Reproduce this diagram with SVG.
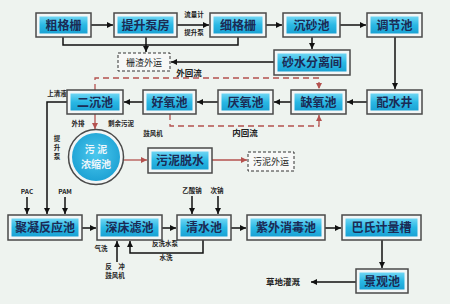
<svg xmlns="http://www.w3.org/2000/svg" width="450" height="304" viewBox="0 0 450 304">
<defs>
<linearGradient id="cy" x1="0" y1="0" x2="0" y2="1">
<stop offset="0" stop-color="#6fd6f4"/>
<stop offset="0.5" stop-color="#2ab8e4"/>
<stop offset="1" stop-color="#1aa2d4"/>
</linearGradient>
<radialGradient id="cc" cx="0.5" cy="0.45" r="0.6">
<stop offset="0" stop-color="#4cc8ee"/>
<stop offset="1" stop-color="#1a9fd2"/>
</radialGradient>
<marker id="ab" viewBox="0 0 10 10" refX="10" refY="5" markerWidth="6" markerHeight="6" markerUnits="userSpaceOnUse" orient="auto">
<path d="M0,0 L10,5 L0,10 z" fill="#111"/>
</marker>
<marker id="ar" viewBox="0 0 10 10" refX="10" refY="5" markerWidth="6" markerHeight="6" markerUnits="userSpaceOnUse" orient="auto">
<path d="M0,0 L10,5 L0,10 z" fill="#b4524f"/>
</marker>
</defs>
<style>
.o{fill:#f3f6f6;stroke:#4a4a4a;stroke-width:1.5}
.i{fill:url(#cy)}
.d{fill:#f7f8f7;stroke:#333;stroke-width:1;stroke-dasharray:3 2}
.t{font-family:"Noto Sans CJK SC","Noto Sans",sans-serif;font-weight:bold;font-size:12px;fill:#1b2b55;text-anchor:middle}
.td{font-family:"Noto Sans CJK SC","Noto Sans",sans-serif;font-size:9px;fill:#222;text-anchor:middle}
.s{font-family:"Noto Sans CJK SC","Noto Sans",sans-serif;font-weight:bold;font-size:6.5px;fill:#222;text-anchor:middle}
.m{font-family:"Noto Sans CJK SC","Noto Sans",sans-serif;font-weight:bold;font-size:8.5px;fill:#222;text-anchor:middle}
.k{fill:none;stroke:#111;stroke-width:1.5}
.r{fill:none;stroke:#b4524f;stroke-width:1.3}
.rd{fill:none;stroke:#b4524f;stroke-width:1.3;stroke-dasharray:6 4}
</style>
<rect x="0" y="0" width="450" height="304" fill="#eef3ef"/>

<g id="connectors">
<line class="k" x1="91" y1="25" x2="113" y2="25" marker-end="url(#ab)"/>
<line class="k" x1="177" y1="25" x2="209" y2="25" marker-end="url(#ab)"/>
<line class="k" x1="266" y1="25" x2="282" y2="25" marker-end="url(#ab)"/>
<line class="k" x1="340" y1="25" x2="366" y2="25" marker-end="url(#ab)"/>
<line class="k" x1="312" y1="37" x2="312" y2="49" marker-end="url(#ab)"/>
<line class="k" x1="274" y1="62" x2="171" y2="62" marker-end="url(#ab)"/>
<polyline class="k" points="63,37 63,45 238,45 238,37"/>
<line class="k" x1="146" y1="37" x2="146" y2="52" marker-end="url(#ab)"/>
<line class="k" x1="395" y1="37" x2="395" y2="89" marker-end="url(#ab)"/>
<line class="k" x1="367" y1="102" x2="347" y2="102" marker-end="url(#ab)"/>
<line class="k" x1="291" y1="102" x2="274" y2="102" marker-end="url(#ab)"/>
<line class="k" x1="218" y1="102" x2="197" y2="102" marker-end="url(#ab)"/>
<line class="k" x1="143" y1="102" x2="124" y2="102" marker-end="url(#ab)"/>
<polyline class="rd" points="95,90 95,78 319,78 319,89" marker-end="url(#ar)"/>
<polyline class="rd" points="170,114 170,126 319,126 319,115" marker-end="url(#ar)"/>
<polyline class="k" points="67,102 47,102 47,214" marker-end="url(#ab)"/>
<line class="r" x1="95" y1="114" x2="95" y2="129" marker-end="url(#ar)"/>
<line class="r" x1="123" y1="160" x2="147" y2="160" marker-end="url(#ar)"/>
<line class="r" x1="212" y1="160" x2="247" y2="160" marker-end="url(#ar)"/>
<line class="k" x1="27" y1="197" x2="27" y2="214" marker-end="url(#ab)"/>
<line class="k" x1="65" y1="197" x2="65" y2="214" marker-end="url(#ab)"/>
<line class="k" x1="192" y1="196" x2="192" y2="214" marker-end="url(#ab)"/>
<line class="k" x1="218" y1="196" x2="218" y2="214" marker-end="url(#ab)"/>
<line class="k" x1="82" y1="228" x2="96" y2="228" marker-end="url(#ab)"/>
<line class="k" x1="162" y1="228" x2="176" y2="228" marker-end="url(#ab)"/>
<line class="k" x1="231" y1="228" x2="246" y2="228" marker-end="url(#ab)"/>
<line class="k" x1="325" y1="228" x2="341" y2="228" marker-end="url(#ab)"/>
<polyline class="k" points="203,240 203,253 130,253 130,241" marker-end="url(#ab)"/>
<line class="k" x1="117" y1="262" x2="117" y2="241" marker-end="url(#ab)"/>
<line class="k" x1="382" y1="240" x2="382" y2="268" marker-end="url(#ab)"/>
<line class="k" x1="356" y1="282" x2="311" y2="282" marker-end="url(#ab)"/>
</g>

<g id="labels">
<text class="s" x="194" y="17">流量计</text>
<text class="s" x="194" y="35">提升泵</text>
<text class="m" x="189" y="76">外回流</text>
<text class="m" x="245" y="136">内回流</text>
<text class="s" x="57" y="96">上清液</text>
<text class="s" x="57" y="141">提</text>
<text class="s" x="57" y="150">升</text>
<text class="s" x="57" y="159">泵</text>
<text class="s" x="78" y="126">外排</text>
<text class="s" x="121" y="126">剩余污泥</text>
<text class="s" x="153" y="136">鼓风机</text>
<text class="s" x="27" y="194">PAC</text>
<text class="s" x="65" y="194">PAM</text>
<text class="s" x="192" y="193">乙酸钠</text>
<text class="s" x="217" y="193">次钠</text>
<text class="s" x="165" y="246">反洗水泵</text>
<text class="s" x="166" y="260">水洗</text>
<text class="s" x="101" y="251">气洗</text>
<text class="s" x="115" y="269">反　冲</text>
<text class="s" x="115" y="278">鼓风机</text>
<text class="m" x="283" y="285">草地灌溉</text>
</g>

<g id="n1"><rect class="o" x="36" y="13" width="55" height="24"/><rect class="i" x="39.5" y="16.5" width="48" height="17"/><text class="t" x="63.5" y="29.5">粗格栅</text></g>
<g id="n2"><rect class="o" x="114" y="13" width="63" height="24"/><rect class="i" x="117.5" y="16.5" width="56" height="17"/><text class="t" x="145.5" y="29.5">提升泵房</text></g>
<g id="n3"><rect class="o" x="210" y="13" width="56" height="24"/><rect class="i" x="213.5" y="16.5" width="49" height="17"/><text class="t" x="238" y="29.5">细格栅</text></g>
<g id="n4"><rect class="o" x="283" y="13" width="57" height="24"/><rect class="i" x="286.5" y="16.5" width="50" height="17"/><text class="t" x="311.5" y="29.5">沉砂池</text></g>
<g id="n5"><rect class="o" x="367" y="13" width="55" height="24"/><rect class="i" x="370.5" y="16.5" width="48" height="17"/><text class="t" x="394.5" y="29.5">调节池</text></g>
<g id="n6"><rect class="o" x="274" y="50" width="76" height="25"/><rect class="i" x="277.5" y="53.5" width="69" height="18"/><text class="t" x="312" y="67">砂水分离间</text></g>
<g id="n7"><rect class="d" x="118" y="53" width="52" height="18"/><text class="td" x="144" y="65.5">栅渣外运</text></g>
<g id="n8"><rect class="o" x="367" y="90" width="55" height="24"/><rect class="i" x="370.5" y="93.5" width="48" height="17"/><text class="t" x="394.5" y="106.5">配水井</text></g>
<g id="n9"><rect class="o" x="291" y="90" width="55" height="24"/><rect class="i" x="294.5" y="93.5" width="48" height="17"/><text class="t" x="318.5" y="106.5">缺氧池</text></g>
<g id="n10"><rect class="o" x="218" y="90" width="55" height="24"/><rect class="i" x="221.5" y="93.5" width="48" height="17"/><text class="t" x="245.5" y="106.5">厌氧池</text></g>
<g id="n11"><rect class="o" x="143" y="90" width="53" height="24"/><rect class="i" x="146.5" y="93.5" width="46" height="17"/><text class="t" x="169.5" y="106.5">好氧池</text></g>
<g id="n12"><rect class="o" x="67" y="90" width="56" height="24"/><rect class="i" x="70.5" y="93.5" width="49" height="17"/><text class="t" x="95" y="106.5">二沉池</text></g>
<g id="n13"><circle cx="96" cy="157" r="27.5" fill="#f3f6f6" stroke="#4a4a4a" stroke-width="1.5"/><circle cx="96" cy="157" r="24" fill="url(#cc)"/><text class="t" x="96" y="153" style="font-size:10px;fill:#eef6fb">污 泥</text><text class="t" x="96" y="168" style="font-size:10px;fill:#eef6fb">浓缩池</text></g>
<g id="n14"><rect class="o" x="148" y="148" width="64" height="25"/><rect class="i" x="151.5" y="151.5" width="57" height="18"/><text class="t" x="180" y="165">污泥脱水</text></g>
<g id="n15"><rect class="d" x="248" y="152" width="46" height="19"/><text class="td" x="271" y="164.5">污泥外运</text></g>
<g id="n16"><rect class="o" x="8" y="215" width="74" height="25"/><rect class="i" x="11.5" y="218.5" width="67" height="18"/><text class="t" x="45" y="232">聚凝反应池</text></g>
<g id="n17"><rect class="o" x="97" y="215" width="65" height="25"/><rect class="i" x="100.5" y="218.5" width="58" height="18"/><text class="t" x="129.5" y="232">深床滤池</text></g>
<g id="n18"><rect class="o" x="177" y="215" width="54" height="25"/><rect class="i" x="180.5" y="218.5" width="47" height="18"/><text class="t" x="204" y="232">清水池</text></g>
<g id="n19"><rect class="o" x="247" y="215" width="78" height="25"/><rect class="i" x="250.5" y="218.5" width="71" height="18"/><text class="t" x="286" y="232">紫外消毒池</text></g>
<g id="n20"><rect class="o" x="342" y="215" width="79" height="25"/><rect class="i" x="345.5" y="218.5" width="72" height="18"/><text class="t" x="381.5" y="232">巴氏计量槽</text></g>
<g id="n21"><rect class="o" x="356" y="269" width="52" height="24"/><rect class="i" x="359.5" y="272.5" width="45" height="17"/><text class="t" x="382" y="285.5">景观池</text></g>
</svg>
